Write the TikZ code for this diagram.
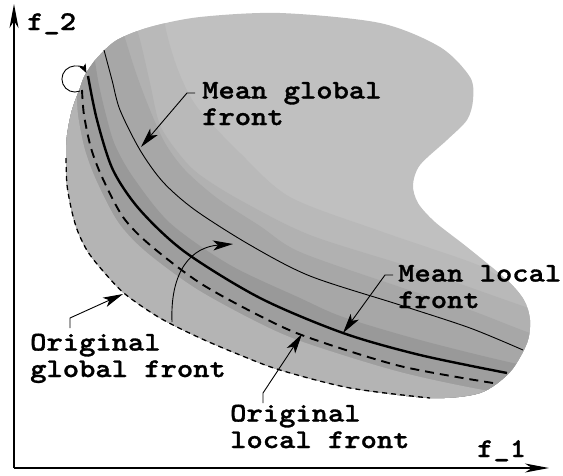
\documentclass[tikz,border=0pt]{standalone}
\usepackage{fontspec}
\newfontfamily\lblfont{lmmonolt10-bold}[Extension=.otf, FakeStretch=1.15, FakeBold=1.2]
\usetikzlibrary{arrows.meta}
\definecolor{band0}{gray}{0.753}
\definecolor{band1}{gray}{0.725}
\definecolor{band2}{gray}{0.694}
\definecolor{band3}{gray}{0.655}
\definecolor{band4}{gray}{0.600}
\definecolor{band5}{gray}{0.620}
\definecolor{band6}{gray}{0.706}
\tikzset{
  lbl/.style={font=\lblfont\fontsize{27}{26.5}\selectfont, inner sep=0pt, align=left, anchor=base west},
  leader/.style={line width=0.9pt, -{Stealth[length=20pt,width=10pt,inset=5pt]}},
  axis/.style={line width=1.1pt, -{Stealth[length=24pt,width=9pt,inset=7pt]}},
  origglobal/.style={line width=1.3pt, dash pattern=on 5pt off 4pt},
  origlocal/.style={line width=1.9pt, dash pattern=on 9pt off 6pt},
  meanlocal/.style={line width=2.4pt},
  meanglobal/.style={line width=0.9pt},
}
\begin{document}
\begin{tikzpicture}[x=1pt,y=-1pt]
\useasboundingbox (0,0) rectangle (563,475);
% shaded region, bands darken towards the fronts
\begin{scope}
  \clip plot[smooth cycle] coordinates {(430,398) (480,393) (510,372) (527,343) (530,320) (524,300) (507,280) (467,247) (435,222) (418,203) (413,185) (420,165) (447,140) (467,120) (473,100) (470,77) (440,47) (380,23) (280,13) (200,17) (150,27) (117,40) (97,58) (85,75) (80,88) (72,110) (67,135) (66,158) (67,185) (72,212) (78,232) (88,252) (103,271) (125,294) (160,318) (200,338) (240,355) (280,370) (350,388)};
  \fill[band0] (-10,-10) rectangle (600,600);
  \fill[band1] (-10,-10) -- plot[smooth] coordinates {(160,-10) (166,30) (178,70) (197,107) (240,153) (290,197) (380,231) (473,263) (507,280) (580,310)} -- (600,600) -- (-10,600) -- cycle;
  \fill[band2] (-10,-10) -- plot[smooth] coordinates {(128,0) (140,40) (150,83) (160,125) (180,155) (200,175) (240,200) (310,235) (420,270) (520,305) (580,325)} -- (600,600) -- (-10,600) -- cycle;
  \fill[band3] (-10,-10) -- plot[smooth] coordinates {(118,15) (135,70) (150,110) (165,143) (185,170) (217,198) (260,226) (300,252) (400,287) (470,310) (530,333) (580,348)} -- (600,600) -- (-10,600) -- cycle;
  \fill[band4] (-10,-10) -- plot[smooth] coordinates {(92,40) (98,80) (106,115) (115,145) (133,177) (170,223) (230,265) (300,298) (343,317) (420,340) (513,363) (580,375)} -- (600,600) -- (-10,600) -- cycle;
  \fill[band5] (-10,-10) -- plot[smooth] coordinates {(86,60) (88,76) (97,120) (113,170) (140,210) (185,252) (260,298) (343,333) (420,355) (507,373) (580,385)} -- (600,600) -- (-10,600) -- cycle;
  \fill[band6] (-10,-10) -- plot[smooth] coordinates {(76,80) (78,115) (85,150) (97,182) (118,222) (145,251) (195,288) (255,321) (303,342) (400,372) (495,392) (580,402)} -- (600,600) -- (-10,600) -- cycle;
\end{scope}
% fronts
\draw[origglobal] plot[smooth] coordinates {(66,158) (67,185) (72,212) (78,232) (88,252) (103,271) (125,294) (160,318) (200,338) (240,355) (280,370) (350,388) (430,398)};
\draw[origlocal] plot[smooth] coordinates {(82,90) (84,115) (91,148) (102,177) (123,217) (150,245) (200,283) (260,316) (307,337) (400,366) (493,383)};
\draw[meanlocal] plot[smooth] coordinates {(88,76) (97,120) (113,170) (140,210) (185,252) (260,298) (343,333) (420,355) (507,373)};
\draw[meanglobal] plot[smooth] coordinates {(104,50) (112,80) (120,110) (140,150) (163,182) (195,210) (250,245) (310,276) (400,305) (470,328) (523,350)};
% axes
\coordinate (origin) at (14,468);
\coordinate (ytip) at (14,4);
\coordinate (xtip) at (549,468);
\draw[axis] (origin) -- (ytip);
\draw[axis] (origin) -- (xtip);
\node[lbl] (f2) at (27,30) {f\_2};
\node[lbl] (f1) at (477,457) {f\_1};
% labels (base = last line)
\node[lbl] (mg) at (202,125) {Mean global\\front};
\node[lbl] (ml) at (398,308) {Mean local\\front};
\node[lbl] (og) at (30,377) {Original\\global front};
\node[lbl] (ol) at (230,448) {Original\\local front};
\coordinate (mgtip) at (141,147);
\coordinate (mltip) at (343,333);
\coordinate (ogtip) at (123,294);
\coordinate (oltip) at (302,334);
\draw[leader] ([shift={(-7,-32)}]mg.base west) -- ++(-8,0) -- (mgtip);
\draw[leader] ([shift={(-5,-33)}]ml.base west) -- ++(-8,0) -- (mltip);
\draw[leader] ([shift={(40,-49)}]og.base west) -- ++(0,-10) -- (ogtip);
\draw[leader] ([shift={(33,-45)}]ol.base west) -- ++(0,-10) -- (oltip);
% moves between the fronts
\coordinate (ogpt) at (172,322);
\coordinate (mgpt) at (233,244);
\coordinate (olpt) at (80,91);
\draw[leader] (ogpt) .. controls (170,270) and (192,247) .. (mgpt);
\draw[line width=0.9pt, -{Stealth[length=9pt,width=7pt,inset=2pt]}] (olpt) arc[start angle=67, end angle=333, radius=13];
\end{tikzpicture}
\end{document}
